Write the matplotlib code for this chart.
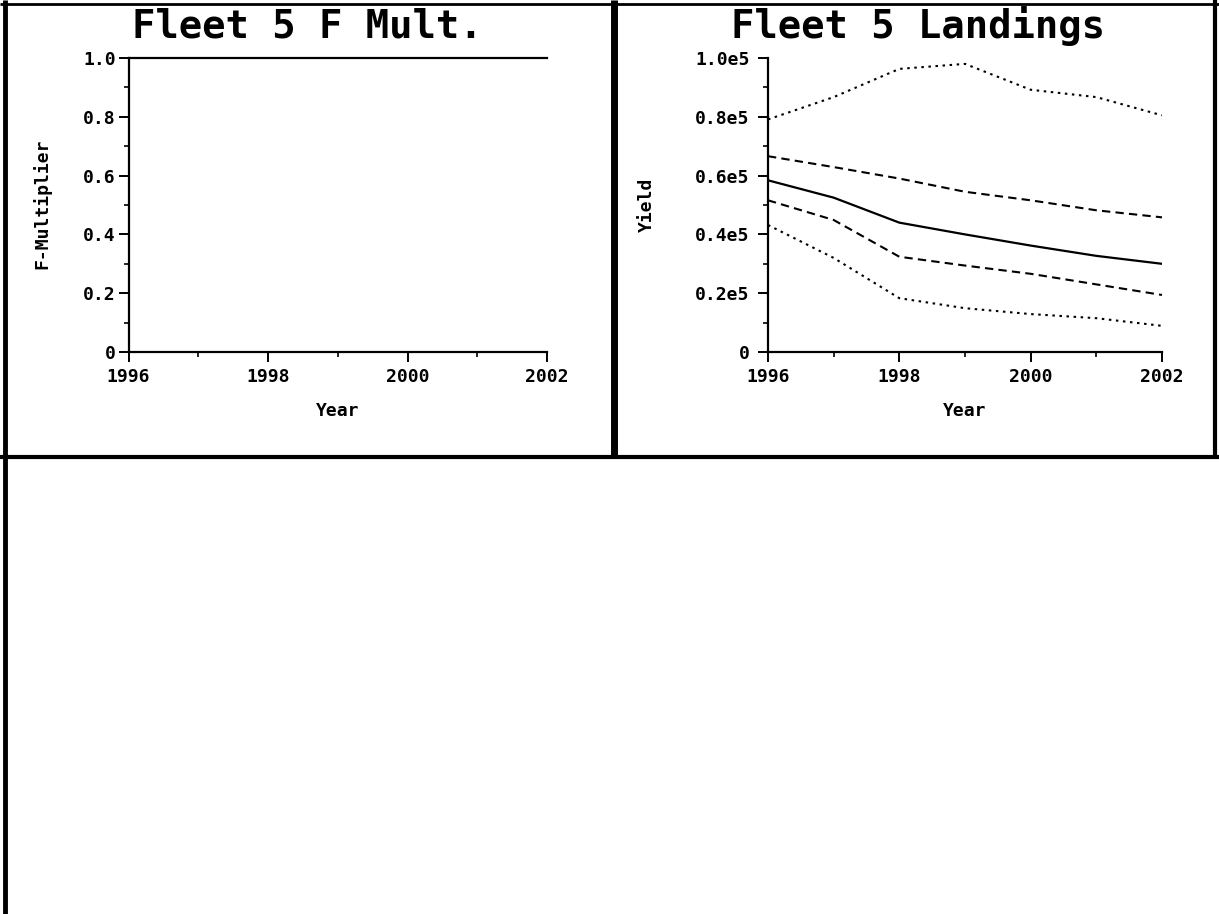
import matplotlib
matplotlib.use("Agg")
import matplotlib.pyplot as plt
from matplotlib.lines import Line2D
from matplotlib.ticker import MultipleLocator, FixedLocator

years = [1996, 1997, 1998, 1999, 2000, 2001, 2002]
f_mult = [1.0, 1.0, 1.0, 1.0, 1.0, 1.0, 1.0]

# Landings (yield) percentiles
yield_median = [58400, 52500, 44000, 40000, 36200, 32700, 30000]
yield_upper_dash = [66600, 62900, 59000, 54500, 51600, 48200, 45800]
yield_lower_dash = [51600, 44900, 32400, 29400, 26600, 23000, 19400]
yield_upper_dot = [79100, 86700, 96300, 98000, 89200, 86700, 80500]
yield_lower_dot = [43200, 32000, 18300, 14900, 12900, 11500, 8900]

left_yticks = [0, 0.2, 0.4, 0.6, 0.8, 1.0]
left_yticklabels = ["0", "0.2", "0.4", "0.6", "0.8", "1.0"]
right_yticks = [0, 20000, 40000, 60000, 80000, 100000]
right_yticklabels = ["0", "0.2e5", "0.4e5", "0.6e5", "0.8e5", "1.0e5"]
xticks = [1996, 1998, 2000, 2002]

W, H = 1219, 914
fig = plt.figure(figsize=(W / 100, H / 100), dpi=100)
fig.patch.set_facecolor("white")

FONT = "DejaVu Sans Mono"
plt.rcParams["font.family"] = FONT
plt.rcParams["font.weight"] = "bold"
LS = 13


def fx(px):
    return px / W


def fy(py):
    return 1 - py / H


def style_axes(ax, ypad):
    for s in ("top", "right"):
        ax.spines[s].set_visible(False)
    for s in ("left", "bottom"):
        ax.spines[s].set_linewidth(1.6)
    ax.set_xlim(1996, 2002)
    ax.xaxis.set_major_locator(FixedLocator(xticks))
    ax.xaxis.set_minor_locator(MultipleLocator(1))
    ax.tick_params(axis="both", which="major", direction="out", length=7.2,
                   width=1.4, labelsize=LS)
    ax.tick_params(axis="both", which="minor", direction="out", length=3.6,
                   width=1.2)
    ax.tick_params(axis="x", which="major", pad=4)
    ax.tick_params(axis="y", which="major", pad=ypad)
    for lab in ax.get_xticklabels() + ax.get_yticklabels():
        lab.set_fontweight("bold")
        lab.set_family(FONT)


# Left panel: F multiplier
ax1 = fig.add_axes([fx(128.5), fy(352), fx(547) - fx(128.5), fy(58) - fy(352)])
ax1.plot(years, f_mult, color="black", lw=1.6, clip_on=False)
ax1.set_ylim(0, 1.0)
ax1.set_yticks(left_yticks)
ax1.set_yticklabels(left_yticklabels)
ax1.yaxis.set_minor_locator(MultipleLocator(0.1))
style_axes(ax1, 2)
ax1.set_xlabel("Year", fontsize=LS, fontweight="bold", family=FONT)
ax1.xaxis.set_label_coords(0.5, -0.17)
ax1.set_ylabel("F-Multiplier", fontsize=LS, fontweight="bold", family=FONT)
ax1.yaxis.set_label_coords(-0.185, 0.503)

# Right panel: landings
ax2 = fig.add_axes([fx(768), fy(352), fx(1162) - fx(768), fy(58) - fy(352)])
ax2.plot(years, yield_upper_dot, color="black", lw=1.5, ls=(0, (1.2, 2.2)))
ax2.plot(years, yield_upper_dash, color="black", lw=1.5, ls=(0, (4, 2.5)))
ax2.plot(years, yield_median, color="black", lw=1.6, ls="-")
ax2.plot(years, yield_lower_dash, color="black", lw=1.5, ls=(0, (4, 2.5)))
ax2.plot(years, yield_lower_dot, color="black", lw=1.5, ls=(0, (1.2, 2.2)))
ax2.set_ylim(0, 100000)
ax2.set_yticks(right_yticks)
ax2.set_yticklabels(right_yticklabels)
ax2.yaxis.set_minor_locator(MultipleLocator(10000))
style_axes(ax2, 6)
ax2.set_xlabel("Year", fontsize=LS, fontweight="bold", family=FONT)
ax2.xaxis.set_label_coords(0.5, -0.17)
ax2.set_ylabel("Yield", fontsize=LS, fontweight="bold", family=FONT)
ax2.yaxis.set_label_coords(-0.285, 0.5)

# Titles
fig.text(fx(307), fy(38), "Fleet 5 F Mult.", ha="center", va="baseline",
         fontsize=28, fontweight="bold", family=FONT)
fig.text(fx(918), fy(38), "Fleet 5 Landings", ha="center", va="baseline",
         fontsize=28, fontweight="bold", family=FONT)

# Panel frames
def fline(x0, y0, x1, y1, lw):
    fig.add_artist(Line2D([fx(x0), fx(x1)], [fy(y0), fy(y1)], color="black",
                          lw=lw, transform=fig.transFigure, solid_capstyle="butt"))

fline(0, 4, W, 4, 2.0)          # top
fline(0, 457, W, 457, 3.0)      # middle horizontal
fline(5, 0, 5, H, 3.5)          # left
fline(614, 0, 614, 457, 5.0)    # divider
fline(1215, 0, 1215, 457, 3.0)  # right

fig.savefig("out.png", dpi=100, facecolor="white")
